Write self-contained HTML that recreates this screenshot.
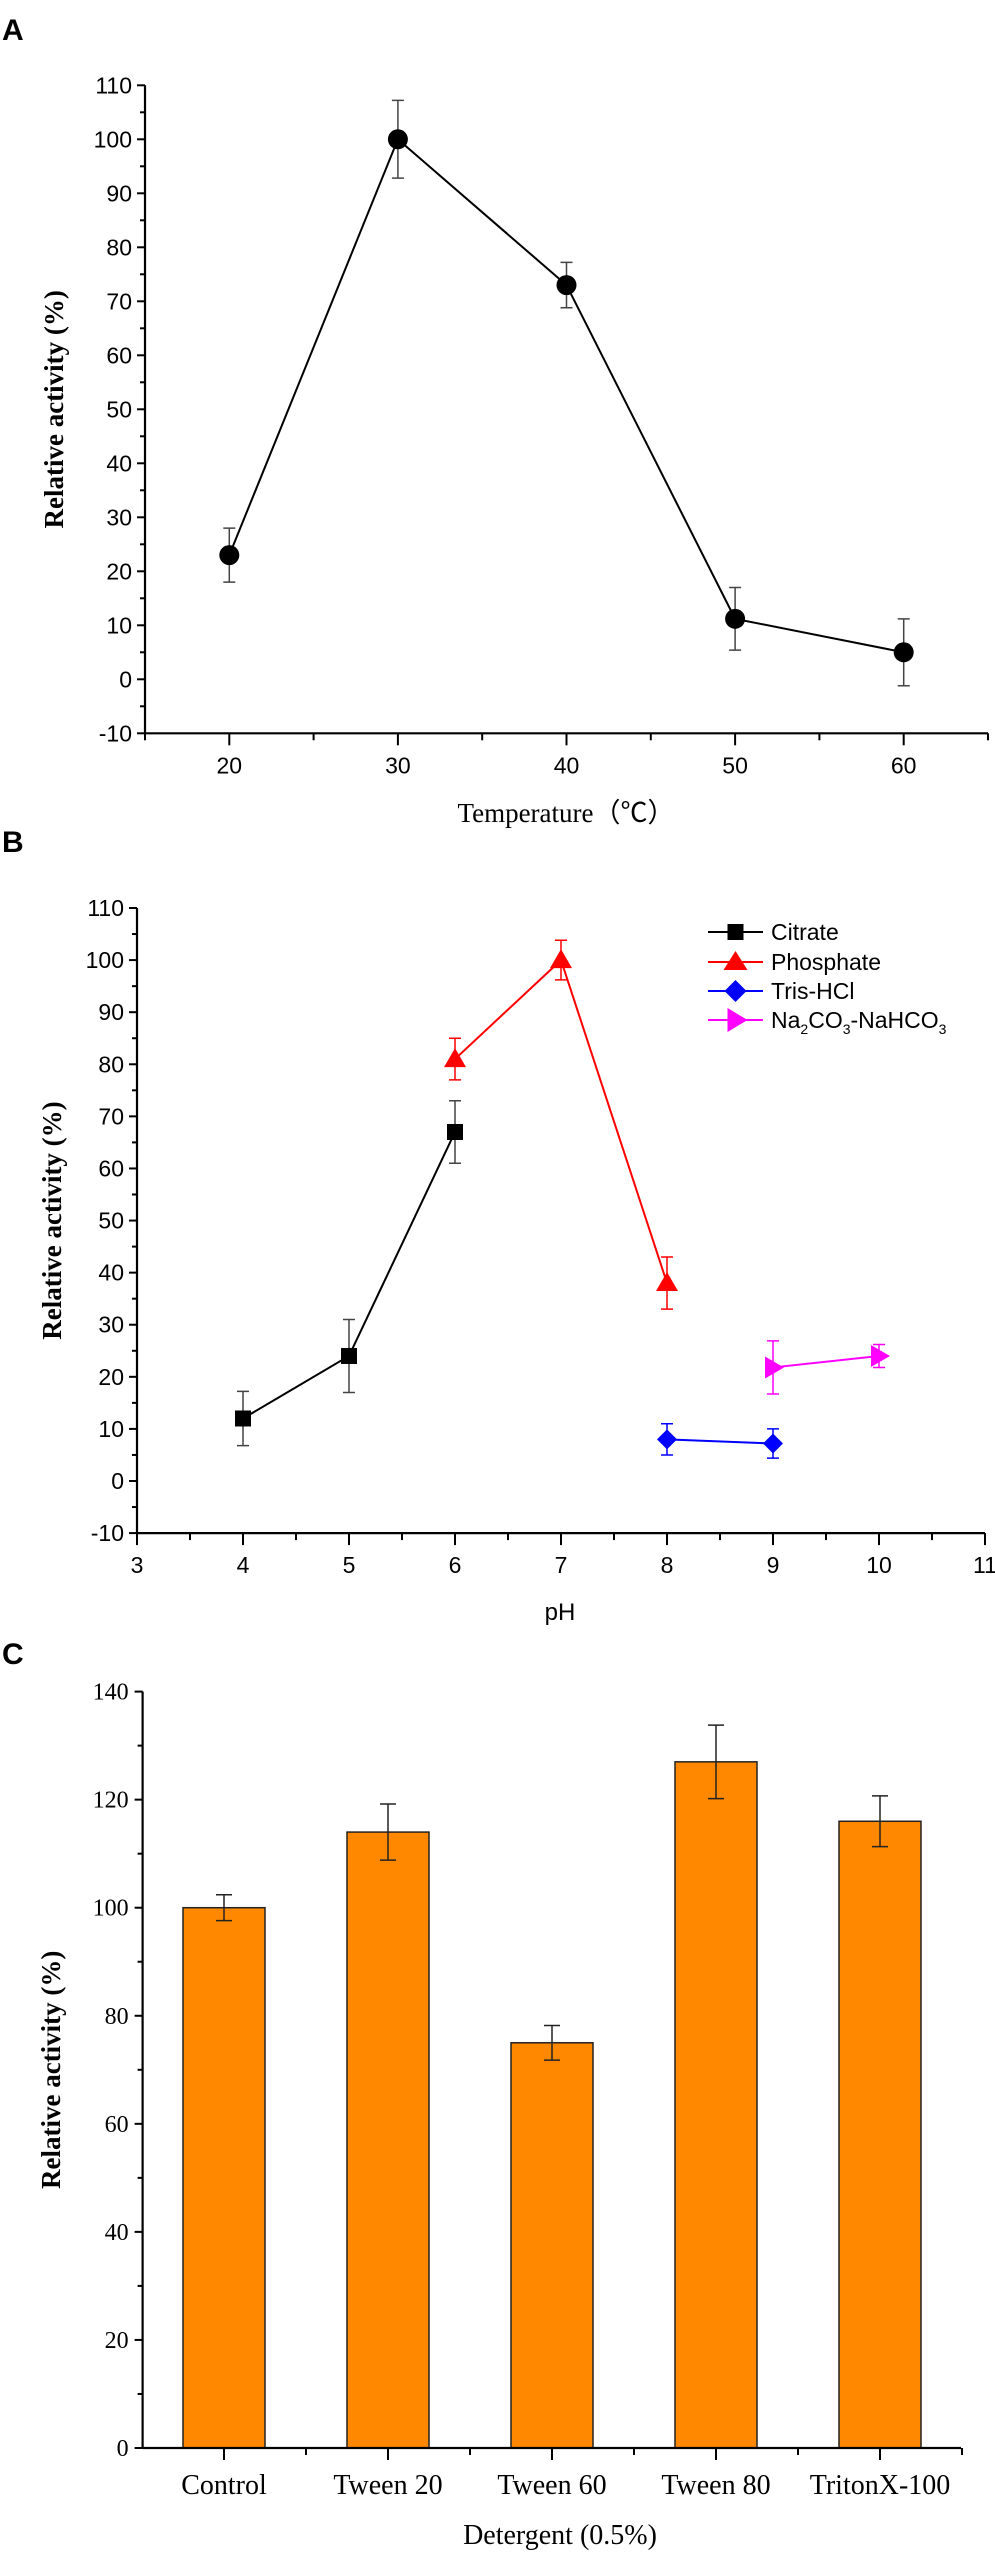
<!DOCTYPE html>
<html><head><meta charset="utf-8">
<style>
html,body{margin:0;padding:0;background:#fff;}
svg{display:block;}
.sans{font-family:"Liberation Sans",Arial,sans-serif;}
.serif{font-family:"Liberation Serif","Times New Roman",serif;}
</style></head>
<body>
<svg id="fig" width="995" height="2555" viewBox="0 0 995 2555" xmlns="http://www.w3.org/2000/svg">
<text class="sans" x="2" y="40" font-size="30" font-weight="bold">A</text>
<text class="sans" x="2" y="852" font-size="30" font-weight="bold">B</text>
<text class="sans" x="2" y="1664" font-size="30" font-weight="bold">C</text>
<g id="pa"></g>
<g id="pb"></g>
<g id="pc"></g>
</svg>
<script>
// Panel A data
const tempX = [20, 30, 40, 50, 60];
const tempY = [23, 100, 73, 11.2, 5];
const tempErr = [5, 7.2, 4.2, 5.8, 6.2];
const tempYTicks = [-10, 0, 10, 20, 30, 40, 50, 60, 70, 80, 90, 100, 110];
const tempXTicks = [20, 30, 40, 50, 60];
// Panel B data
const phSeriesNames = ["Citrate", "Phosphate", "Tris-HCl", "Na2CO3-NaHCO3"];
const citrateX = [4, 5, 6];
const citrateY = [12, 24, 67];
const citrateErr = [5.2, 7, 6];
const phosphateX = [6, 7, 8];
const phosphateY = [81, 100, 38];
const phosphateErr = [4, 3.8, 5];
const trisX = [8, 9];
const trisY = [8, 7.2];
const trisErr = [3, 2.8];
const carbX = [9, 10];
const carbY = [21.8, 24];
const carbErr = [5.1, 2.2];
const phYTicks = [-10, 0, 10, 20, 30, 40, 50, 60, 70, 80, 90, 100, 110];
const phXTicks = [3, 4, 5, 6, 7, 8, 9, 10, 11];
// Panel C data
const detCats = ["Control", "Tween 20", "Tween 60", "Tween 80", "TritonX-100"];
const detVals = [100, 114, 75, 127, 116];
const detErr = [2.4, 5.2, 3.2, 6.8, 4.7];
const detYTicks = [0, 20, 40, 60, 80, 100, 120, 140];

const NS = "http://www.w3.org/2000/svg";
function mk(parent, tag, attrs, text){
  const e = document.createElementNS(NS, tag);
  for (const k in attrs) e.setAttribute(k, attrs[k]);
  if (text !== undefined) e.textContent = text;
  parent.appendChild(e);
  return e;
}
function lin(d0,d1,r0,r1){return v=>r0+(v-d0)*(r1-r0)/(d1-d0);}

function drawAxes(g, o){
  const ax = mk(g,'line',{x1:o.x0,y1:o.yTop,x2:o.x0,y2:o.yBot,stroke:'#000','stroke-width':2.2});
  
  
  const bx = mk(g,'line',{x1:o.x0,y1:o.yBot,x2:o.x1,y2:o.yBot,stroke:'#000','stroke-width':2.2});
  
  
}

// ---------- Panel A ----------
(function(){
  const g = document.getElementById('pa');
  const X = lin(15,65,145,988), Y = lin(0,10,679.3,625.3);
  drawAxes(g,{x0:145,x1:988,yTop:Y(110),yBot:Y(-10)});
  tempYTicks.forEach(v=>{
    mk(g,'line',{x1:137,y1:Y(v),x2:145,y2:Y(v),stroke:'#000','stroke-width':2});
    if (v<110) mk(g,'line',{x1:140,y1:Y(v+5),x2:145,y2:Y(v+5),stroke:'#000','stroke-width':2});
    const t = mk(g,'text',{x:132,y:Y(v)+8,'text-anchor':'end','font-size':23,class:'sans'},String(v));
    
    
  });
  for (let v=15; v<=65; v+=5){
    const major = tempXTicks.includes(v);
    mk(g,'line',{x1:X(v),y1:Y(-10),x2:X(v),y2:Y(-10)+(major?12:7),stroke:'#000','stroke-width':2});
  }
  tempXTicks.forEach(v=>{
    const t = mk(g,'text',{x:X(v),y:Y(-10)+40,'text-anchor':'middle','font-size':23,class:'sans'},String(v));
    
    
  });
  const pts = tempX.map((x,i)=>X(x)+','+Y(tempY[i])).join(' ');
  const line = mk(g,'polyline',{points:pts,fill:'none',stroke:'#000','stroke-width':2});
  
  
  tempX.forEach((x,i)=>{
    const cx=X(x), y1=Y(tempY[i]+tempErr[i]), y2=Y(tempY[i]-tempErr[i]);
    mk(g,'path',{d:`M${cx},${y1}V${y2}M${cx-6},${y1}H${cx+6}M${cx-6},${y2}H${cx+6}`,stroke:'#444','stroke-width':1.5,fill:'none'});
    const c = mk(g,'circle',{cx:cx,cy:Y(tempY[i]),r:10,fill:'#000'});
    
    
  });
  const yt = mk(g,'text',{transform:`translate(63,${Y(50)}) rotate(-90)`,'text-anchor':'middle','font-size':27,'font-weight':'bold',class:'serif'},'Relative activity (%)');
  
  
  const xt = mk(g,'text',{x:566,y:822,'text-anchor':'middle','font-size':27,class:'serif'},'Temperature（℃）');
  
  
})();

// ---------- Panel B ----------
(function(){
  const g = document.getElementById('pb');
  const X = lin(3,11,137,985), Y = lin(0,110,1481,908);
  drawAxes(g,{x0:137,x1:985,yTop:Y(110),yBot:Y(-10)});
  phYTicks.forEach(v=>{
    mk(g,'line',{x1:129,y1:Y(v),x2:137,y2:Y(v),stroke:'#000','stroke-width':2});
    if (v<110) mk(g,'line',{x1:132,y1:Y(v+5),x2:137,y2:Y(v+5),stroke:'#000','stroke-width':2});
    const t = mk(g,'text',{x:124,y:Y(v)+8,'text-anchor':'end','font-size':23,class:'sans'},String(v));
    
    
  });
  for (let v=3; v<=11; v+=0.5){
    const major = Number.isInteger(v);
    mk(g,'line',{x1:X(v),y1:Y(-10),x2:X(v),y2:Y(-10)+(major?12:7),stroke:'#000','stroke-width':2});
  }
  phXTicks.forEach(v=>{
    const t = mk(g,'text',{x:X(v),y:Y(-10)+40,'text-anchor':'middle','font-size':23,class:'sans'},String(v));
    
    
  });
  function marker(shape,cx,cy,color){
    const s=10;
    if (shape==='square') return mk(g,'rect',{x:cx-8,y:cy-8,width:16,height:16,fill:color});
    if (shape==='tri') return mk(g,'polygon',{points:`${cx},${cy-11} ${cx+11},${cy+8} ${cx-11},${cy+8}`,fill:color});
    if (shape==='dia') return mk(g,'polygon',{points:`${cx},${cy-s} ${cx+s},${cy} ${cx},${cy+s} ${cx-s},${cy}`,fill:color});
    return mk(g,'polygon',{points:`${cx-8},${cy-11} ${cx+11},${cy} ${cx-8},${cy+11}`,fill:color});
  }
  const series = [
    {xs:citrateX,ys:citrateY,es:citrateErr,color:'#000',shape:'square',name:'citrate'},
    {xs:phosphateX,ys:phosphateY,es:phosphateErr,color:'#f00',shape:'tri',name:'phosphate'},
    {xs:trisX,ys:trisY,es:trisErr,color:'#00f',shape:'dia',name:'tris-hcl'},
    {xs:carbX,ys:carbY,es:carbErr,color:'#f0f',shape:'right',name:'carbonate'}
  ];
  series.forEach(s=>{
    const pl = mk(g,'polyline',{points:s.xs.map((x,i)=>X(x)+','+Y(s.ys[i])).join(' '),fill:'none',stroke:s.color,'stroke-width':2});
    
    
    s.xs.forEach((x,i)=>{
      const cx=X(x), y1=Y(s.ys[i]+s.es[i]), y2=Y(s.ys[i]-s.es[i]);
      mk(g,'path',{d:`M${cx},${y1}V${y2}M${cx-6},${y1}H${cx+6}M${cx-6},${y2}H${cx+6}`,stroke:s.color==='#000'?'#444':s.color,'stroke-width':1.5,fill:'none'});
      const m = marker(s.shape,cx,Y(s.ys[i]),s.color);
      
      
    });
  });
  // legend
  const lg = mk(g,'g',{});
  
  
  const rowsY=[932,962,991,1020];
  series.forEach((s,i)=>{
    const y=rowsY[i];
    mk(lg,'line',{x1:708,y1:y,x2:763,y2:y,stroke:s.color,'stroke-width':2});
    const cx=735.5;
    let m;
    if (s.shape==='square') m=mk(lg,'rect',{x:cx-8,y:y-8,width:16,height:16,fill:s.color});
    else if (s.shape==='tri') m=mk(lg,'polygon',{points:`${cx},${y-11} ${cx+12},${y+8} ${cx-12},${y+8}`,fill:s.color});
    else if (s.shape==='dia') m=mk(lg,'polygon',{points:`${cx},${y-11} ${cx+11},${y} ${cx},${y+11} ${cx-11},${y}`,fill:s.color});
    else m=mk(lg,'polygon',{points:`${cx-8},${y-12} ${cx+12},${y} ${cx-8},${y+12}`,fill:s.color});
    const t = mk(lg,'text',{x:771,y:y+8,'font-size':23,class:'sans'});
    if (i===3){
      t.innerHTML='Na<tspan dy="6" font-size="14">2</tspan><tspan dy="-6">CO</tspan><tspan dy="6" font-size="14">3</tspan><tspan dy="-6">-NaHCO</tspan><tspan dy="6" font-size="14">3</tspan>';
    } else t.textContent=phSeriesNames[i];
    
    
  });
  const yt = mk(g,'text',{transform:`translate(61,${Y(50)}) rotate(-90)`,'text-anchor':'middle','font-size':27,'font-weight':'bold',class:'serif'},'Relative activity (%)');
  
  
  const xt = mk(g,'text',{x:560,y:1620,'text-anchor':'middle','font-size':24,class:'sans'},'pH');
  
  
})();

// ---------- Panel C ----------
(function(){
  const g = document.getElementById('pc');
  const Y = lin(0,140,2448,1691.6);
  const x0=142.6, step=164, bw=82;
  const X = i => 224 + i*step;
  detCats.forEach((c,i)=>{
    const v=detVals[i], cx=X(i);
    const b = mk(g,'rect',{x:cx-bw/2,y:Y(v),width:bw,height:Y(0)-Y(v),fill:'#ff8800',stroke:'#222','stroke-width':1.5});
    
    
    const y1=Y(v+detErr[i]), y2=Y(v-detErr[i]);
    mk(g,'path',{d:`M${cx},${y1}V${y2}M${cx-8},${y1}H${cx+8}M${cx-8},${y2}H${cx+8}`,stroke:'#222','stroke-width':1.5,fill:'none'});
    const t = mk(g,'text',{x:cx,y:2494,'text-anchor':'middle','font-size':28,class:'serif'},c);
    
    
    mk(g,'line',{x1:cx,y1:Y(0),x2:cx,y2:Y(0)+12,stroke:'#000','stroke-width':2});
    mk(g,'line',{x1:cx+step/2,y1:Y(0),x2:cx+step/2,y2:Y(0)+7,stroke:'#000','stroke-width':2});
  });
  drawAxes(g,{x0:x0,x1:961,yTop:Y(140),yBot:Y(0)});
  detYTicks.forEach(v=>{
    mk(g,'line',{x1:x0-8,y1:Y(v),x2:x0,y2:Y(v),stroke:'#000','stroke-width':2});
    if (v<140) mk(g,'line',{x1:x0-5,y1:Y(v+10),x2:x0,y2:Y(v+10),stroke:'#000','stroke-width':2});
    const t = mk(g,'text',{x:x0-14,y:Y(v)+8,'text-anchor':'end','font-size':24,class:'serif'},String(v));
    
    
  });
  const yt = mk(g,'text',{transform:`translate(60,${Y(70)}) rotate(-90)`,'text-anchor':'middle','font-size':27,'font-weight':'bold',class:'serif'},'Relative activity (%)');
  
  
  const xt = mk(g,'text',{x:560,y:2544,'text-anchor':'middle','font-size':28,class:'serif'},'Detergent (0.5%)');
  
  
})();
</script>
</body></html>
